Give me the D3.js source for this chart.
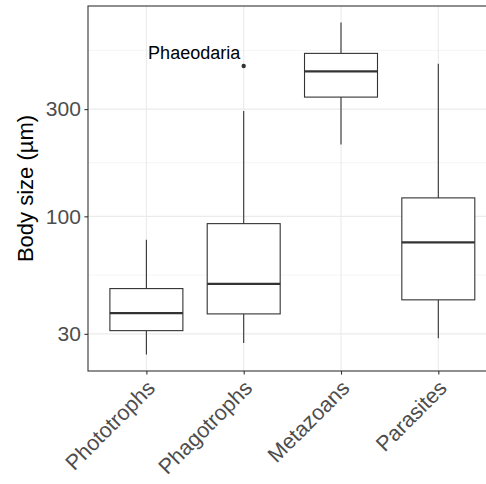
<!DOCTYPE html>
<html>
<head>
<meta charset="utf-8">
<script src="https://cdn.jsdelivr.net/npm/d3@7"></script>
<style>
  html, body { margin: 0; padding: 0; background: #fff; }
  svg { display: block; font-family: "Liberation Sans", Arial, Helvetica, sans-serif; }
</style>
</head>
<body>
<svg id="chart" width="486" height="484"></svg>
<script>
const categories = ["Phototrophs", "Phagotrophs", "Metazoans", "Parasites"];
const whiskerLow = [24.3, 27.3, 208.8, 28.7];
const q1 = [31.0, 36.8, 339.3, 42.5];
const medians = [37.1, 50.1, 441.7, 76.6];
const q3 = [47.7, 92.8, 531, 120.8];
const whiskerHigh = [78.7, 294, 728, 478];
const outlierCategory = ["Phagotrophs"];
const outlierValue = [466.6];
const outlierLabel = ["Phaeodaria"];
const yTicks = [30, 100, 300];
const yLabel = "Body size (\u00b5m)";

const panel = { left: 88, top: 6, right: 496.7, bottom: 371 };
const FONT = "'Liberation Sans', Arial, Helvetica, sans-serif";

const svg = d3.select("#chart");

// log scale with 5% expansion (ggplot style)
const allVals = whiskerLow.concat(whiskerHigh, outlierValue);
const lmin = Math.log10(d3.min(allVals)), lmax = Math.log10(d3.max(allVals));
const pad = (lmax - lmin) * 0.05;
const y = d3.scaleLog()
  .domain([Math.pow(10, lmin - pad), Math.pow(10, lmax + pad)])
  .range([panel.bottom, panel.top]);

const x = d3.scalePoint().domain(categories)
  .range([panel.left, panel.right]).padding(0.6);
const step = x.step();
const boxW = step * 0.75;

// minor breaks: midpoints in log space, extended by first difference
const lt = yTicks.map(Math.log10);
const bd = lt[1] - lt[0];
const ext = [lt[0] - bd].concat(lt, [lt[lt.length - 1] + bd]);
const minor = [];
for (let i = 0; i < ext.length - 1; i++) minor.push(Math.pow(10, (ext[i] + ext[i + 1]) / 2));

const g = svg.append("g");
svg.append("defs").append("clipPath").attr("id", "pc")
  .append("rect").attr("x", panel.left).attr("y", panel.top)
  .attr("width", panel.right - panel.left).attr("height", panel.bottom - panel.top);

const grid = g.append("g").attr("clip-path", "url(#pc)");
grid.selectAll("line.minor").data(minor).join("line")
  .attr("x1", panel.left).attr("x2", panel.right)
  .attr("y1", d => y(d)).attr("y2", d => y(d))
  .attr("stroke", "#EBEBEB").attr("stroke-width", 0.55);
grid.selectAll("line.majy").data(yTicks).join("line")
  .attr("x1", panel.left).attr("x2", panel.right)
  .attr("y1", d => y(d)).attr("y2", d => y(d))
  .attr("stroke", "#EBEBEB").attr("stroke-width", 1.1);
grid.selectAll("line.majx").data(categories).join("line")
  .attr("y1", panel.top).attr("y2", panel.bottom)
  .attr("x1", d => x(d)).attr("x2", d => x(d))
  .attr("stroke", "#EBEBEB").attr("stroke-width", 1.1);

// boxes
const col = "#333333";
const boxes = g.append("g");
categories.forEach((c, i) => {
  const cx = x(c);
  const bg = boxes.append("g");
  bg.append("line").attr("x1", cx).attr("x2", cx)
    .attr("y1", y(whiskerHigh[i])).attr("y2", y(q3[i]))
    .attr("stroke", col).attr("stroke-width", 1.1);
  bg.append("line").attr("x1", cx).attr("x2", cx)
    .attr("y1", y(q1[i])).attr("y2", y(whiskerLow[i]))
    .attr("stroke", col).attr("stroke-width", 1.1);
  bg.append("rect").attr("x", cx - boxW / 2).attr("width", boxW)
    .attr("y", y(q3[i])).attr("height", y(q1[i]) - y(q3[i]))
    .attr("fill", "#fff").attr("stroke", col).attr("stroke-width", 1.1);
  bg.append("line").attr("x1", cx - boxW / 2).attr("x2", cx + boxW / 2)
    .attr("y1", y(medians[i])).attr("y2", y(medians[i]))
    .attr("stroke", col).attr("stroke-width", 2.2);
});

// outliers + labels
outlierValue.forEach((v, i) => {
  const cx = x(outlierCategory[i]);
  g.append("circle").attr("cx", cx).attr("cy", y(v)).attr("r", 2.2).attr("fill", col);
  g.append("text").attr("x", cx - 3.5).attr("y", y(v) - 7)
    .attr("text-anchor", "end").style("font-family", FONT).style("font-size", "18px")
    .attr("fill", "#000").text(outlierLabel[i]);
});

// panel border
g.append("rect").attr("x", panel.left).attr("y", panel.top)
  .attr("width", panel.right - panel.left).attr("height", panel.bottom - panel.top)
  .attr("fill", "none").attr("stroke", col).attr("stroke-width", 1.1);

// y axis
const yAxis = g.append("g").attr("transform", `translate(${panel.left},0)`)
  .call(d3.axisLeft(y).tickValues(yTicks).tickFormat(d3.format("d")).tickSize(3.6).tickPadding(3.5));
yAxis.select(".domain").remove();
yAxis.selectAll(".tick line").attr("stroke", col).attr("stroke-width", 1.1);
yAxis.selectAll(".tick text").attr("fill", "#4D4D4D")
  .style("font-size", "21px").style("font-family", FONT);

// x axis
const xAxis = g.append("g").attr("transform", `translate(0,${panel.bottom})`)
  .call(d3.axisBottom(x).tickSize(3.6).tickFormat(""));
xAxis.select(".domain").remove();
xAxis.selectAll(".tick line").attr("stroke", col).attr("stroke-width", 1.1);
const xl = g.append("g");
categories.forEach(c => {
  xl.append("text")
    .attr("transform", `translate(${x(c) - 1.5},${panel.bottom + 7}) rotate(-45)`)
    .attr("text-anchor", "end").attr("dy", "0.75em")
    .style("font-size", "21.5px").style("font-family", FONT).attr("fill", "#4D4D4D")
    .text(c);
});

// y title
g.append("text")
  .attr("transform", `translate(33,${(panel.top + panel.bottom) / 2}) rotate(-90)`)
  .attr("text-anchor", "middle").style("font-size", "22px").style("font-family", FONT)
  .attr("fill", "#000").text(yLabel);
</script>
</body>
</html>
